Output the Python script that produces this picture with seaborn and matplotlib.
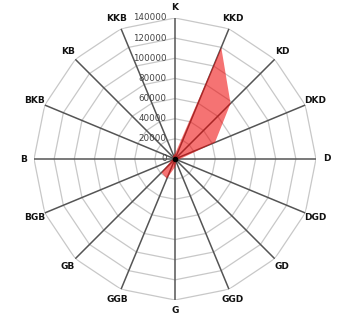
import numpy as np
import matplotlib
matplotlib.use("Agg")
import matplotlib.pyplot as plt
import seaborn as sns

categories = ["K", "KKD", "KD", "DKD", "D", "DGD", "GD", "GGD",
              "G", "GGB", "GB", "BGB", "B", "BKB", "KB", "KKB"]
values = [5000, 120000, 78000, 43000, 5000, 2000, 2000, 3000,
          8000, 21000, 19000, 4000, 2000, 2000, 3000, 4000]
ring_ticks = [0, 20000, 40000, 60000, 80000, 100000, 120000, 140000]

sns.set_theme(style="white")
plt.rcParams['font.family'] = ['DejaVu Sans']

fig = plt.figure(figsize=(3.5, 3.24), dpi=100)
ax = fig.add_axes([34/350, 24/324, 282/350, 282/324], projection="polar")
ax.set_theta_zero_location("N")
ax.set_theta_direction(-1)
rmax = ring_ticks[-1]
ax.set_ylim(0, rmax)
ax.grid(False)
ax.spines["polar"].set_visible(False)
ax.set_xticks([])
ax.set_yticks([])
ax.patch.set_alpha(0)

n = len(categories)
theta = np.linspace(0, 2 * np.pi, n, endpoint=False)
theta_c = np.append(theta, theta[0])

# polygon rings
for v in ring_ticks[1:]:
    ax.plot(theta_c, [v] * (n + 1), color="#c8c8c8", lw=0.9, zorder=1)
# spokes
for t in theta:
    ax.plot([t, t], [0, rmax], color="#555555", lw=1.1, zorder=2)

# data
vals_c = np.append(values, values[0])
ax.fill(theta_c, vals_c, color="#ee0000", alpha=0.55, lw=0, zorder=3)
ax.plot([0], [0], "o", color="black", ms=3, zorder=5)

# category labels
for t, c in zip(theta, categories):
    ax.text(t, rmax * 1.075, c, ha="center", va="center",
            fontsize=6.5, fontweight="bold", color="#111111", zorder=6)

# radial tick labels
for v in ring_ticks:
    ax.annotate(str(v), xy=(0, v), xytext=(-6, 0), textcoords="offset points",
                ha="right", va="center", fontsize=6.3, color="#444444", zorder=6)

fig.savefig("out.png", dpi=100)
